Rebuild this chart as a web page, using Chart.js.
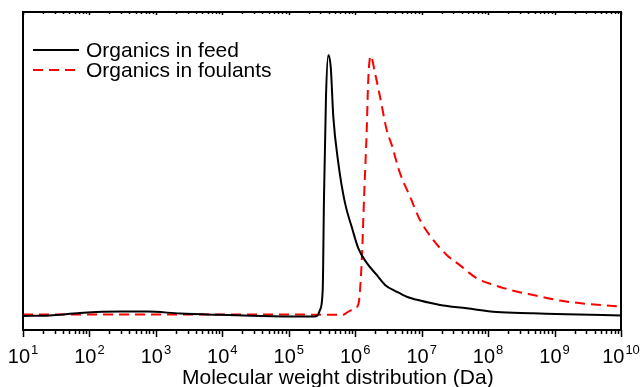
<!DOCTYPE html>
<html lang="en">
<head>
    <meta charset="UTF-8">
    <title>Molecular weight distribution</title>
    <script src="https://cdn.jsdelivr.net/npm/chart.js"></script>
    <style>
        html, body { margin: 0; padding: 0; background: #fff; }
        #wrap { width: 641px; height: 387px; }
    </style>
</head>
<body>
    <div id="wrap"><canvas id="mwChart" width="641" height="387"></canvas></div>

    <script>
        // Molecular weight (Da) and relative signal
        const feedMw = [10, 25, 72, 290, 735, 2310, 9230, 36900, 147600, 248000, 275000, 295000,
            324000, 339000, 363000, 394000, 428000, 468000, 557000, 701000, 885000, 1.11e6,
            1.49e6, 2.11e6, 2.81e6, 4.21e6, 5.96e6, 9.44e6, 1.89e7, 4.76e7, 1.35e8, 4.74e8, 1.52e9, 1e10];
        const feedSignal = [0.051, 0.053, 0.062, 0.067, 0.067, 0.060, 0.055, 0.051, 0.049, 0.049, 0.055, 0.073,
            0.145, 0.484, 0.847, 1.0, 0.956, 0.775, 0.607, 0.462, 0.375, 0.298,
            0.244, 0.200, 0.164, 0.139, 0.121, 0.107, 0.091, 0.079, 0.065, 0.061, 0.057, 0.053];

        const foulantMw = [10, 145, 4570, 1.48e5, 6.55e5, 7.45e5, 8.9e5, 1.11e6, 1.25e6, 1.36e6, 1.49e6,
            1.57e6, 1.71e6, 1.99e6, 2.36e6, 2.98e6, 3.54e6, 4.72e6, 6.68e6, 9.44e6, 1.5e7,
            2.38e7, 3.78e7, 6.75e7, 1.2e8, 2.4e8, 4.8e8, 1.21e9, 3.05e9, 1e10];
        const foulantSignal = [0.056, 0.056, 0.056, 0.056, 0.055, 0.063, 0.073, 0.091, 0.244, 0.484, 0.727,
            0.909, 0.996, 0.933, 0.848, 0.727, 0.673, 0.570, 0.485, 0.400, 0.327,
            0.273, 0.235, 0.188, 0.164, 0.143, 0.127, 0.107, 0.095, 0.085];

        const decadeExps = [1, 2, 3, 4, 5, 6, 7, 8, 9, 10];
        const xTitle = 'Molecular weight distribution (Da)';
        const FONT = '"Liberation Sans", Arial, sans-serif';

        function toPoints(xs, ys) {
            return xs.map((x, i) => ({ x: x, y: ys[i] }));
        }

        // frame, log ticks, superscript tick labels, axis title and legend
        const framePlugin = {
            id: 'framePlugin',
            afterDraw(chart) {
                const ctx = chart.ctx;
                const area = chart.chartArea;
                const xs = chart.scales.x;
                ctx.save();

                ctx.strokeStyle = '#000';
                ctx.lineWidth = 2;
                ctx.strokeRect(area.left, area.top, area.right - area.left, area.bottom - area.top);

                // tick marks
                ctx.lineWidth = 1.5;
                decadeExps.forEach(n => {
                    const px = Math.round(xs.getPixelForValue(Math.pow(10, n))) + 0.5;
                    ctx.beginPath();
                    ctx.moveTo(px, area.bottom);
                    ctx.lineTo(px, area.bottom + 7);
                    ctx.moveTo(px, area.top);
                    ctx.lineTo(px, area.top + 3);
                    ctx.stroke();
                    if (n < 10) {
                        for (let m = 2; m <= 9; m++) {
                            const mx = Math.round(xs.getPixelForValue(m * Math.pow(10, n))) + 0.5;
                            ctx.beginPath();
                            ctx.moveTo(mx, area.bottom);
                            ctx.lineTo(mx, area.bottom + 4);
                            ctx.moveTo(mx, area.top);
                            ctx.lineTo(mx, area.top + 2);
                            ctx.stroke();
                        }
                    }
                });

                // tick labels 10^n
                ctx.fillStyle = '#000';
                ctx.textAlign = 'left';
                ctx.textBaseline = 'alphabetic';
                decadeExps.forEach(n => {
                    const px = xs.getPixelForValue(Math.pow(10, n));
                    ctx.font = '20px ' + FONT;
                    const wBase = ctx.measureText('10').width;
                    ctx.font = '13px ' + FONT;
                    const wExp = ctx.measureText(String(n)).width;
                    const start = px - (wBase + wExp + 1) / 2;
                    ctx.font = '20px ' + FONT;
                    ctx.fillText('10', start, 363);
                    ctx.font = '13px ' + FONT;
                    ctx.fillText(String(n), start + wBase + 1, 354);
                });

                // axis title (sits a little right of the plot centre in the original)
                ctx.font = '21px ' + FONT;
                ctx.textAlign = 'left';
                ctx.fillText(xTitle, 182, 384);

                // legend
                ctx.textBaseline = 'middle';
                ctx.font = '21px ' + FONT;
                chart.data.datasets.forEach((ds, i) => {
                    const ly = 50 + i * 20;
                    ctx.strokeStyle = ds.borderColor;
                    ctx.lineWidth = ds.borderWidth;
                    ctx.setLineDash(ds.borderDash || []);
                    ctx.beginPath();
                    ctx.moveTo(33, ly);
                    ctx.lineTo(79, ly);
                    ctx.stroke();
                    ctx.setLineDash([]);
                    ctx.fillText(ds.label, 86, ly + 1);
                });

                ctx.restore();
            }
        };

        new Chart(document.getElementById('mwChart'), {
            type: 'scatter',
            data: {
                datasets: [
                    {
                        label: 'Organics in feed',
                        data: toPoints(feedMw, feedSignal),
                        showLine: true,
                        borderColor: '#000000',
                        borderWidth: 2,
                        pointRadius: 0,
                        cubicInterpolationMode: 'monotone'
                    },
                    {
                        label: 'Organics in foulants',
                        data: toPoints(foulantMw, foulantSignal),
                        showLine: true,
                        borderColor: '#ff0000',
                        borderWidth: 2,
                        borderDash: [10, 6],
                        pointRadius: 0,
                        cubicInterpolationMode: 'monotone'
                    }
                ]
            },
            options: {
                responsive: false,
                animation: false,
                layout: { padding: { left: 23, right: 20, top: 12, bottom: 57 } },
                scales: {
                    x: { type: 'logarithmic', min: 10, max: 1e10, display: false },
                    y: { type: 'linear', min: 0, max: 1.156, display: false }
                },
                plugins: {
                    legend: { display: false },
                    tooltip: { enabled: false }
                }
            },
            plugins: [framePlugin]
        });
    </script>
</body>
</html>
